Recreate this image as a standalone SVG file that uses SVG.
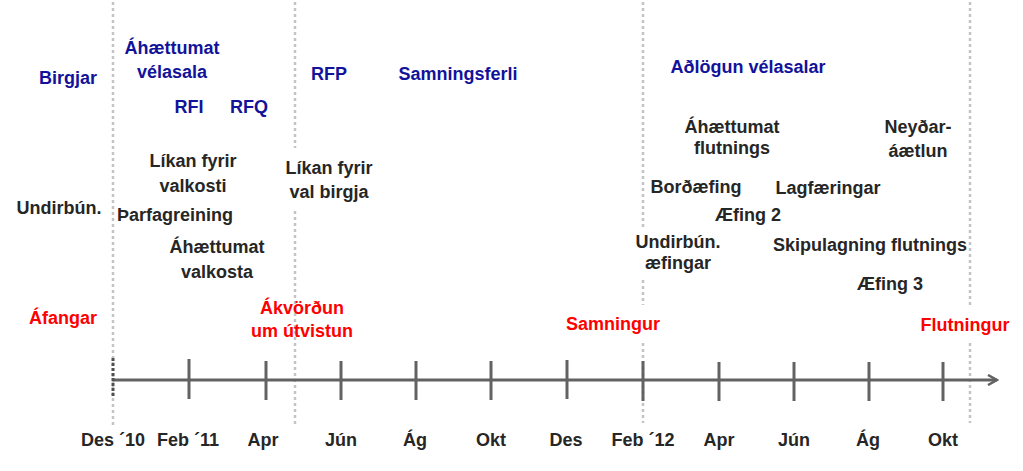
<svg xmlns="http://www.w3.org/2000/svg" width="1023" height="471" viewBox="0 0 1023 471">
<style>
text{font-family:"Liberation Sans",Arial,sans-serif;font-weight:bold;font-size:18px;text-anchor:middle}
.b{fill:#12129a}
.k{fill:#262626}
.r{fill:#ff0000}
.dot{stroke:#c4c4c4;stroke-width:2.5;stroke-dasharray:3 3;fill:none}
.tl{stroke:#626262;stroke-width:3;fill:none}
</style>
<defs>
<marker id="arr" viewBox="0 0 12 12" refX="10" refY="6" markerWidth="12" markerHeight="12" markerUnits="userSpaceOnUse" orient="auto">
<path d="M1,1 L10,6 L1,11" fill="none" stroke="#626262" stroke-width="2.5"/>
</marker>
</defs>
<rect width="1023" height="471" fill="#fff"/>
<g id="grid">
<line class="dot" x1="113" y1="2" x2="113" y2="425"/>
<line class="dot" x1="295" y1="2" x2="295" y2="148"/>
<line class="dot" x1="295" y1="211" x2="295" y2="425"/>
<line class="dot" x1="643" y1="2" x2="643" y2="228"/>
<line class="dot" x1="643" y1="280" x2="643" y2="305"/>
<line class="dot" x1="643" y1="343" x2="643" y2="423"/>
<line class="dot" x1="970" y1="2" x2="970" y2="305"/>
<line class="dot" x1="970" y1="343" x2="970" y2="423"/>
</g>
<g id="connectors">
<line class="tl" x1="113" y1="380" x2="997" y2="380" marker-end="url(#arr)"/>
<line x1="113" y1="358" x2="113" y2="398" stroke="#505050" stroke-width="3" stroke-dasharray="3 2"/>
<line class="tl" x1="189" y1="359" x2="189" y2="399"/>
<line class="tl" x1="266" y1="361" x2="266" y2="400"/>
<line class="tl" x1="341" y1="361" x2="341" y2="400"/>
<line class="tl" x1="416" y1="361" x2="416" y2="400"/>
<line class="tl" x1="491" y1="361" x2="491" y2="400"/>
<line class="tl" x1="567" y1="360" x2="567" y2="399"/>
<line class="tl" x1="643" y1="361" x2="643" y2="401"/>
<line class="tl" x1="719" y1="362" x2="719" y2="401"/>
<line class="tl" x1="794" y1="362" x2="794" y2="401"/>
<line class="tl" x1="869" y1="362" x2="869" y2="401"/>
<line class="tl" x1="943" y1="362" x2="943" y2="401"/>
</g>
<g id="axis-labels" class="k">
<text class="k" x="113" y="446">Des ´10</text>
<text class="k" x="188" y="446">Feb ´11</text>
<text class="k" x="263" y="446">Apr</text>
<text class="k" x="341" y="446">Jún</text>
<text class="k" x="415" y="446">Ág</text>
<text class="k" x="491" y="446">Okt</text>
<text class="k" x="566" y="446">Des</text>
<text class="k" x="643" y="446">Feb ´12</text>
<text class="k" x="719" y="446">Apr</text>
<text class="k" x="794" y="446">Jún</text>
<text class="k" x="868" y="446">Ág</text>
<text class="k" x="943" y="446">Okt</text>
</g>
<g id="birgjar"><text class="b" x="68" y="84">Birgjar</text></g>
<g id="ahaettumat-velasala"><text class="b" x="172" y="54">Áhættumat</text><text class="b" x="172" y="78">vélasala</text></g>
<g id="rfi"><text class="b" x="189" y="113">RFI</text></g>
<g id="rfq"><text class="b" x="249" y="113">RFQ</text></g>
<g id="rfp"><text class="b" x="329" y="80">RFP</text></g>
<g id="samningsferli"><text class="b" x="458" y="80">Samningsferli</text></g>
<g id="adlogun"><text class="b" x="748" y="73">Aðlögun vélasalar</text></g>
<g id="likan-valkosti"><text class="k" x="193" y="167">Líkan fyrir</text><text class="k" x="193" y="192">valkosti</text></g>
<g id="likan-birgja"><text class="k" x="329" y="174">Líkan fyrir</text><text class="k" x="329" y="198">val birgja</text></g>
<g id="undirbun"><text class="k" x="59" y="214">Undirbún.</text></g>
<g id="tharfagreining"><text class="k" x="175" y="221">Þarfagreining</text></g>
<g id="ahaettumat-valkosta"><text class="k" x="217" y="253">Áhættumat</text><text class="k" x="217" y="278">valkosta</text></g>
<g id="afangar"><text class="r" x="63" y="324">Áfangar</text></g>
<g id="akvordun"><text class="r" x="302" y="314">Ákvörðun</text><text class="r" x="302" y="337">um útvistun</text></g>
<g id="samningur"><text class="r" x="613" y="330">Samningur</text></g>
<g id="flutningur"><text class="r" x="965" y="331">Flutningur</text></g>
<g id="ahaettumat-flutnings"><text class="k" x="732" y="133">Áhættumat</text><text class="k" x="732" y="154">flutnings</text></g>
<g id="neydaraaetlun"><text class="k" x="918" y="133">Neyðar-</text><text class="k" x="918" y="157">áætlun</text></g>
<g id="bordaefing"><text class="k" x="696" y="193">Borðæfing</text></g>
<g id="lagfaeringar"><text class="k" x="828" y="194">Lagfæringar</text></g>
<g id="aefing2"><text class="k" x="748" y="221">Æfing 2</text></g>
<g id="undirbun-aefingar"><text class="k" x="678" y="248">Undirbún.</text><text class="k" x="678" y="269">æfingar</text></g>
<g id="skipulagning"><text class="k" x="870" y="251">Skipulagning flutnings</text></g>
<g id="aefing3"><text class="k" x="890" y="290">Æfing 3</text></g>
</svg>
